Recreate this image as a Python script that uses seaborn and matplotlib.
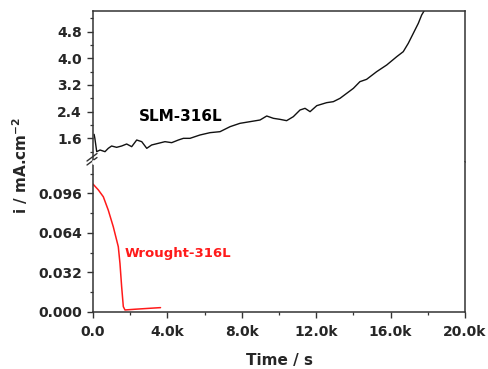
import numpy as np
import pandas as pd
import matplotlib
matplotlib.use("Agg")
import matplotlib.pyplot as plt
from matplotlib.lines import Line2D
from matplotlib.ticker import MultipleLocator, FixedLocator, FixedFormatter
import seaborn as sns

# ---- data ----
slm_time = [60, 100, 200, 380, 645, 820, 1000, 1270, 1540, 1810, 2080, 2350, 2620, 2890,
            3150, 3510, 3870, 4230, 4590, 4860, 5215, 5750, 6290, 6830, 7370, 7900,
            8440, 8980, 9340, 9700, 10050, 10410, 10770, 11130, 11400, 11670, 12030,
            12560, 12920, 13280, 13640, 14000, 14350, 14710, 15250, 15790, 16330,
            16680, 16950, 17220, 17490, 17670, 17810, 17900]
slm_current = [1.72, 1.60, 1.20, 1.25, 1.20, 1.30, 1.37, 1.33, 1.37, 1.43, 1.35, 1.55, 1.50, 1.30,
               1.40, 1.45, 1.50, 1.47, 1.55, 1.60, 1.60, 1.70, 1.77, 1.80, 1.95, 2.05,
               2.10, 2.15, 2.27, 2.20, 2.17, 2.13, 2.25, 2.45, 2.50, 2.40, 2.58,
               2.67, 2.70, 2.80, 2.95, 3.10, 3.30, 3.37, 3.60, 3.80, 4.05,
               4.20, 4.45, 4.75, 5.05, 5.30, 5.43, 5.60]

wrought_time = [0, 290, 555, 820, 1090, 1360, 1450, 1540, 1630, 1720, 2260, 3510, 3630]
wrought_current = [0.1035, 0.0987, 0.0932, 0.0824, 0.0689, 0.0527, 0.0392, 0.0203,
                   0.0041, 0.0014, 0.0020, 0.0032, 0.0033]

x_ticks = [0, 4000, 8000, 12000, 16000, 20000]
x_tick_labels = ["0.0", "4.0k", "8.0k", "12.0k", "16.0k", "20.0k"]
upper_ticks = [1.6, 2.4, 3.2, 4.0, 4.8]
lower_ticks = [0.000, 0.032, 0.064, 0.096]

slm = pd.DataFrame({"t": slm_time, "i": slm_current})
wro = pd.DataFrame({"t": wrought_time, "i": wrought_current})

sns.set_theme(style="ticks")
plt.rcParams["font.family"] = ["DejaVu Sans"]
plt.rcParams["font.weight"] = "bold"

fig = plt.figure(figsize=(4.89, 3.69), dpi=100)
L, R = 93 / 489, 465 / 489
top = 1 - 11 / 369
split = 1 - 162 / 369
bot = 1 - 311.7 / 369
ax_up = fig.add_axes([L, split, R - L, top - split])
ax_lo = fig.add_axes([L, bot, R - L, split - bot])

sns.lineplot(data=slm, x="t", y="i", ax=ax_up, color="#111111", lw=1.0,
             estimator=None, sort=False)
sns.lineplot(data=wro, x="t", y="i", ax=ax_lo, color="#ff1a1a", lw=1.1,
             estimator=None, sort=False)

spine_c = "#333333"
for ax in (ax_up, ax_lo):
    ax.set_xlim(0, 20000)
    ax.set_xlabel("")
    ax.set_ylabel("")
    for s in ax.spines.values():
        s.set_color(spine_c)
        s.set_linewidth(1.1)
    ax.tick_params(axis="both", which="major", direction="out", length=4.5,
                   width=1.0, color=spine_c, labelsize=10)
    ax.tick_params(axis="both", which="minor", direction="out", length=2.5,
                   width=0.9, color=spine_c)
    ax.tick_params(right=False, top=False, which="both")

ax_up.set_ylim(0.89, 5.42)
ax_up.yaxis.set_major_locator(FixedLocator(upper_ticks))
ax_up.yaxis.set_major_formatter(FixedFormatter([f"{v:.1f}" for v in upper_ticks]))
ax_up.yaxis.set_minor_locator(FixedLocator([1.2, 2.0, 2.8, 3.6, 4.4, 5.2]))
ax_up.spines["bottom"].set_visible(False)
ax_up.tick_params(axis="x", which="both", bottom=False, labelbottom=False)

ax_lo.set_ylim(0, 0.1214)
ax_lo.yaxis.set_major_locator(FixedLocator(lower_ticks))
ax_lo.yaxis.set_major_formatter(FixedFormatter([f"{v:.3f}" for v in lower_ticks]))
ax_lo.yaxis.set_minor_locator(MultipleLocator(0.016))
ax_lo.spines["top"].set_visible(False)
ax_lo.xaxis.set_major_locator(FixedLocator(x_ticks))
ax_lo.xaxis.set_major_formatter(FixedFormatter(x_tick_labels))
ax_lo.xaxis.set_minor_locator(MultipleLocator(2000))
ax_lo.tick_params(axis="x", pad=5)
for lab in ax_lo.get_yticklabels() + ax_lo.get_xticklabels() + ax_up.get_yticklabels():
    lab.set_fontweight("bold")

# break marks on left spine
for dy in (0, 4):
    y0 = 1 - (165 - dy) / 369
    y1 = 1 - (157.5 - dy) / 369
    fig.add_artist(Line2D([87 / 489, 97 / 489], [y0, y1], color=spine_c, lw=1.0))
fig.add_artist(Line2D([93 / 489, 93 / 489], [1 - 163.2 / 369, 1 - 160.6 / 369],
                      color="white", lw=2.0))

ax_up.text(4730, 2.24, "SLM-316L", fontsize=11, fontweight="bold", color="black",
           ha="center", va="center")
ax_lo.text(4570, 0.0468, "Wrought-316L", fontsize=9.5, fontweight="bold",
           color="#ff1a1a", ha="center", va="center")

fig.text((L + R) / 2, 1 - 360 / 369, "Time / s", fontsize=11, fontweight="bold",
         ha="center", va="center")
fig.text(20 / 489, (top + bot) / 2 - 0.01, r"i / mA.cm$^{\mathbf{-2}}$", fontsize=11,
         fontweight="bold", rotation=90, ha="center", va="center")

fig.savefig("out.png", dpi=100)
